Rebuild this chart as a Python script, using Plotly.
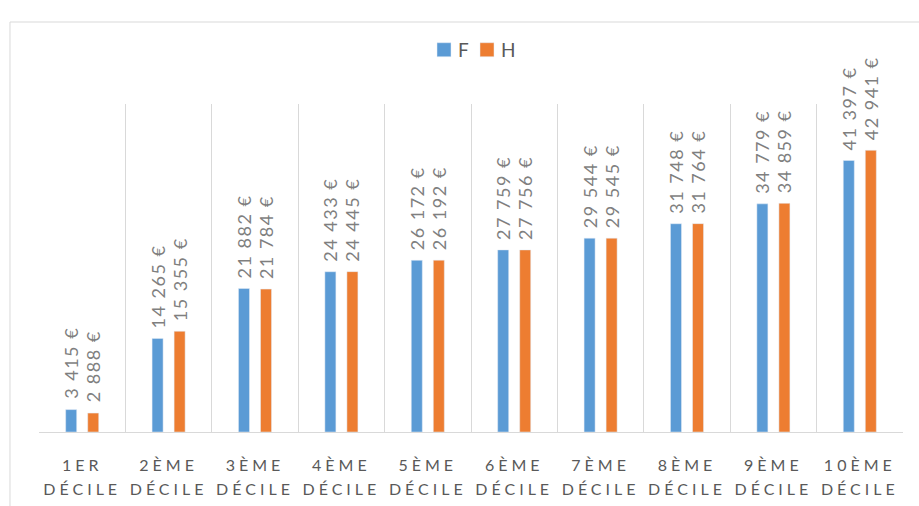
import plotly.graph_objects as go

categories = ["1ER<br>DÉCILE", "2ÈME<br>DÉCILE", "3ÈME<br>DÉCILE", "4ÈME<br>DÉCILE", "5ÈME<br>DÉCILE",
              "6ÈME<br>DÉCILE", "7ÈME<br>DÉCILE", "8ÈME<br>DÉCILE", "9ÈME<br>DÉCILE", "10ÈME<br>DÉCILE"]
values_F = [3415, 14265, 21882, 24433, 26172, 27759, 29544, 31748, 34779, 41397]
values_H = [2888, 15355, 21784, 24445, 26192, 27756, 29545, 31764, 34859, 42941]

def fmt(v):
    return f"{v:,}".replace(",", " ") + " €"

FONT = "Lato, Carlito, 'Open Sans', sans-serif"
LABEL_COLOR = "#7f7f7f"

fig = go.Figure()
for name, vals, col in [("F", values_F, "#5B9BD5"), ("H", values_H, "#ED7D31")]:
    fig.add_trace(go.Bar(name=name, x=categories, y=vals, marker_color=col,
                         text=[fmt(v) for v in vals], textposition="outside", textangle=-90,
                         cliponaxis=False, constraintext="none",
                         textfont=dict(family=FONT, size=18, color=LABEL_COLOR)))

fig.update_layout(
    width=919, height=506,
    margin=dict(l=39, r=16, t=104, b=74),
    paper_bgcolor="white", plot_bgcolor="white",
    barmode="group", bargap=0.49, bargroupgap=0.5,
    font=dict(family=FONT, color="#595959"),
    legend=dict(orientation="h", x=0.5, xanchor="center", y=1.165, yanchor="middle",
                font=dict(family=FONT, size=19, color="#595959"), itemwidth=30,
                traceorder="normal"),
    xaxis=dict(tickson="boundaries", showgrid=True, gridcolor="#d9d9d9", gridwidth=1,
               showline=True, linecolor="#d9d9d9", linewidth=1, ticks="",
               ticklabelstandoff=19,
               tickfont=dict(family=FONT, size=16, color="#595959")),
    yaxis=dict(range=[0, 50000], showgrid=False, showticklabels=False, zeroline=False,
               showline=False),
    shapes=[dict(type="rect", xref="paper", yref="paper", x0=-0.0336, x1=1.05, y0=-0.4, y1=1.25,
                 line=dict(color="#d9d9d9", width=1), fillcolor="rgba(0,0,0,0)", layer="below")],
)

post = """
document.body.style.margin = '0';
var gd = document.getElementById('{plot_id}');
function ls(){
  gd.querySelectorAll('.xtick text').forEach(function(t){
    t.style.letterSpacing = '4px';
    t.querySelectorAll('tspan.line').forEach(function(s, i){ if (i > 0) s.setAttribute('dy', '1.5em'); });
  });
  gd.querySelectorAll('text.bartext').forEach(function(t){
    var tr = t.getAttribute('transform') || '';
    if (tr.indexOf('translate(0,-13)') !== 0) t.setAttribute('transform', 'translate(0,-13) ' + tr);
    t.style.letterSpacing = '1.5px';
  });
  var items = gd.querySelectorAll('.legend .traces');
  items.forEach(function(g, i){
    var p = g.querySelector('.legendpoints path');
    if (p) p.setAttribute('d', 'M7,7H-7V-7H7Z');
    var tx = g.querySelector('text.legendtext');
    if (tx) tx.setAttribute('x', 34);
    if (p) {
      var r = p.getBoundingClientRect();
      var cx = r.left + r.width / 2;
      var want = 444 + 43 * i;
      var tr = g.getAttribute('transform') || 'translate(0,0)';
      var m = /translate\\(\\s*([-\\d.e]+)[ ,]+([-\\d.e]+)\\s*\\)/.exec(tr);
      if (m) g.setAttribute('transform', 'translate(' + (parseFloat(m[1]) + want - cx) + ',' + m[2] + ')');
    }
  });
}
ls();
gd.on('plotly_afterplot', ls);
"""
fig.write_html("out.html", post_script=post, config={"displayModeBar": False})
